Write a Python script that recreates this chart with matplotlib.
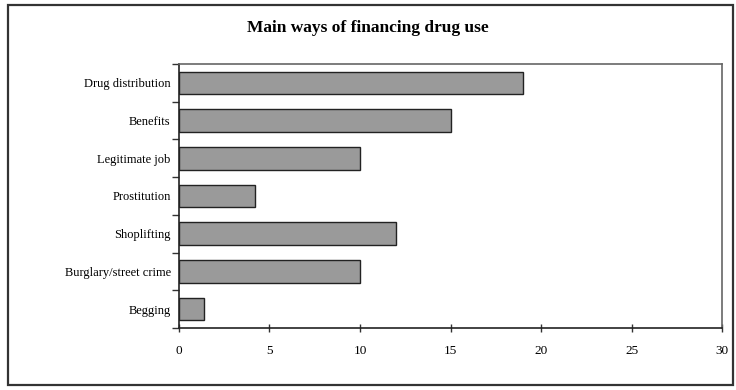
import matplotlib
matplotlib.use("Agg")
import matplotlib.pyplot as plt
from matplotlib.patches import Rectangle
import numpy as np

categories = ["Drug distribution", "Benefits", "Legitimate job", "Prostitution",
              "Shoplifting", "Burglary/street crime", "Begging"]
values = [19, 15, 10, 4.2, 12, 10, 1.4]
xticks = [0, 5, 10, 15, 20, 25, 30]

plt.rcParams["font.family"] = ["Liberation Serif", "DejaVu Serif"]

fig = plt.figure(figsize=(7.36, 3.90), dpi=100)
fig.patch.set_facecolor("white")

# outer frame around the whole chart
fig.patches.append(Rectangle((0.011, 0.013), 0.985, 0.975, transform=fig.transFigure,
                             fill=False, edgecolor="#333333", linewidth=1.6))

ax = fig.add_axes([0.2432, 0.159, 0.7378, 0.677])
y = np.arange(len(categories))
ax.barh(y, values, height=0.6, color="#9a9a9a", edgecolor="#222222", linewidth=1.0)
ax.set_ylim(len(categories) - 0.5, -0.5)
ax.set_xlim(0, 30)

ax.set_yticks(y)
ax.set_yticklabels(categories, fontsize=9)
ax.tick_params(axis="y", length=0, pad=6)
ax.set_yticks(np.arange(-0.5, len(categories), 1.0), minor=True)
ax.tick_params(axis="y", which="minor", length=5, width=1, color="#333333", direction="out")

ax.set_xticks(xticks)
ax.set_xticklabels([str(t) for t in xticks], fontsize=9.5)
ax.tick_params(axis="x", length=6, width=1, color="#333333", direction="inout", pad=9)

for side in ["left", "bottom"]:
    ax.spines[side].set_color("#222222")
    ax.spines[side].set_linewidth(1.2)
for side in ["top", "right"]:
    ax.spines[side].set_color("#666666")
    ax.spines[side].set_linewidth(1.2)

fig.text(0.5, 0.927, "Main ways of financing drug use", ha="center", va="center",
         fontsize=12.5, fontweight="bold")

fig.savefig("out.png", dpi=100, facecolor="white")
